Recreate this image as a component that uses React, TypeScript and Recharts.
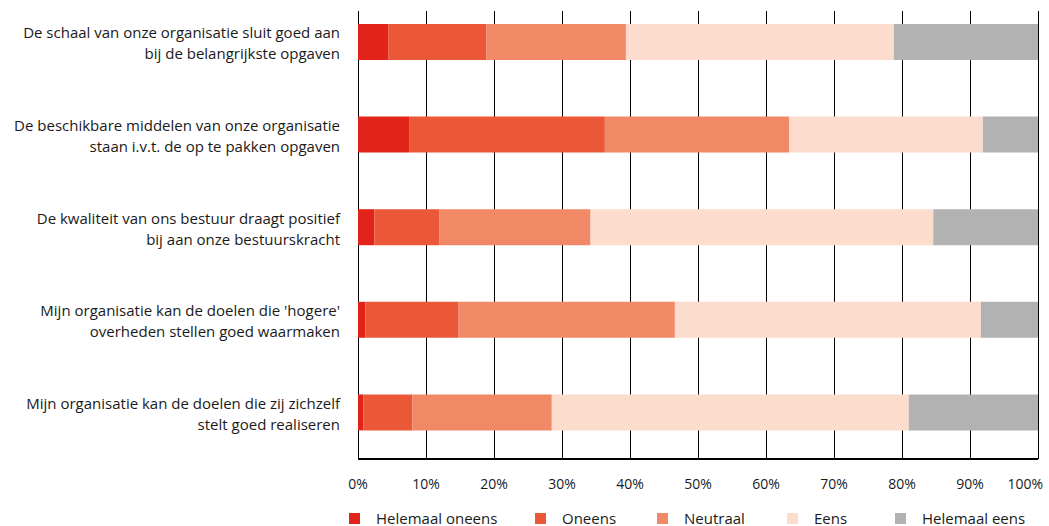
import { Bar, BarChart, CartesianGrid, Legend, XAxis, YAxis } from "recharts";

const statements = [
  "De schaal van onze organisatie sluit goed aan\nbij de belangrijkste opgaven",
  "De beschikbare middelen van onze organisatie\nstaan i.v.t. de op te pakken opgaven",
  "De kwaliteit van ons bestuur draagt positief\nbij aan onze bestuurskracht",
  "Mijn organisatie kan de doelen die 'hogere'\noverheden stellen goed waarmaken",
  "Mijn organisatie kan de doelen die zij zichzelf\nstelt goed realiseren",
];

const helemaalOneens = [4.5, 7.6, 2.4, 1.1, 0.8];
const oneens = [14.4, 28.7, 9.6, 13.7, 7.2];
const neutraal = [20.5, 27.1, 22.2, 31.8, 20.5];
const eens = [39.4, 28.5, 50.4, 45.0, 52.5];
const helemaalEens = [21.2, 8.1, 15.4, 8.4, 19.0];

const xTicks = [0, 10, 20, 30, 40, 50, 60, 70, 80, 90, 100];

const series = [
  { key: "Helemaal oneens", color: "#e2231a" },
  { key: "Oneens", color: "#ea5838" },
  { key: "Neutraal", color: "#f28966" },
  { key: "Eens", color: "#fbdccd" },
  { key: "Helemaal eens", color: "#b2b2b2" },
];

// legend slot widths (px), to space the items like the original
const legendSlots = [186, 122, 130, 108, 150];

const data = statements.map((label, i) => ({
  label,
  "Helemaal oneens": helemaalOneens[i],
  Oneens: oneens[i],
  Neutraal: neutraal[i],
  Eens: eens[i],
  "Helemaal eens": helemaalEens[i],
}));

const FONT = "'Open Sans', sans-serif";
const INK = "#1a1a1a";

function StatementTick({ x, y, payload }: any) {
  const lines = String(payload.value).split("\n");
  return (
    <text x={x - 16} y={y} textAnchor="end" fontFamily={FONT} fontSize={15} fill={INK}>
      {lines.map((line, i) => (
        <tspan key={i} x={x - 16} dy={i === 0 ? -4 : 21}>
          {line}
        </tspan>
      ))}
    </text>
  );
}

function PercentTick({ x, y, payload }: any) {
  const last = payload.value === 100;
  return (
    <text
      x={last ? x + 5 : x}
      y={y}
      dy="0.71em"
      textAnchor={last ? "end" : "middle"}
      fontFamily={FONT}
      fontSize={14}
      fill={INK}
    >
      {`${payload.value}%`}
    </text>
  );
}

function GridLine(props: any) {
  const x = Math.round(props.x1) + 0.5;
  return (
    <line key={props.key} x1={x} x2={x} y1={props.y1 + 15} y2={props.y2} stroke="#000" strokeWidth={1} />
  );
}

function LegendContent() {
  return (
    <div
      style={{
        height: 37,
        paddingTop: 21,
        boxSizing: "border-box",
        display: "flex",
        paddingLeft: 349,
        fontFamily: FONT,
        fontSize: 15,
        color: INK,
        lineHeight: "16px",
        whiteSpace: "nowrap",
        width: 1049,
      }}
    >
      {series.map((s, i) => (
        <div key={s.key} style={{ display: "flex", alignItems: "center", width: legendSlots[i], flexShrink: 0 }}>
          <span style={{ width: 11, height: 11, background: s.color, marginRight: 16, flexShrink: 0 }} />
          {s.key}
        </div>
      ))}
    </div>
  );
}

export default function App() {
  return (
    <div style={{ position: "absolute", left: 0, top: 0, background: "#fff" }}>
      <BarChart
        width={1049}
        height={526}
        data={data}
        layout="vertical"
        margin={{ top: -4, right: 11, bottom: 0, left: 0 }}
        barSize={36}
      >
        <CartesianGrid horizontal={false} vertical={GridLine} />
        <XAxis
          type="number"
          domain={[0, 100]}
          ticks={xTicks}
          tickLine={false}
          axisLine={{ stroke: "#000", strokeWidth: 2 }}
          tickMargin={14}
          height={30}
          interval={0}
          tick={<PercentTick />}
        />
        <YAxis
          type="category"
          dataKey="label"
          width={358}
          axisLine={false}
          tickLine={false}
          tickSize={0}
          tick={<StatementTick />}
        />
        <Legend
          verticalAlign="bottom"
          wrapperStyle={{ left: 0, width: 1049 }}
          content={<LegendContent />}
        />
        {series.map((s) => (
          <Bar key={s.key} dataKey={s.key} stackId="a" fill={s.color} isAnimationActive={false} />
        ))}
      </BarChart>
    </div>
  );
}
